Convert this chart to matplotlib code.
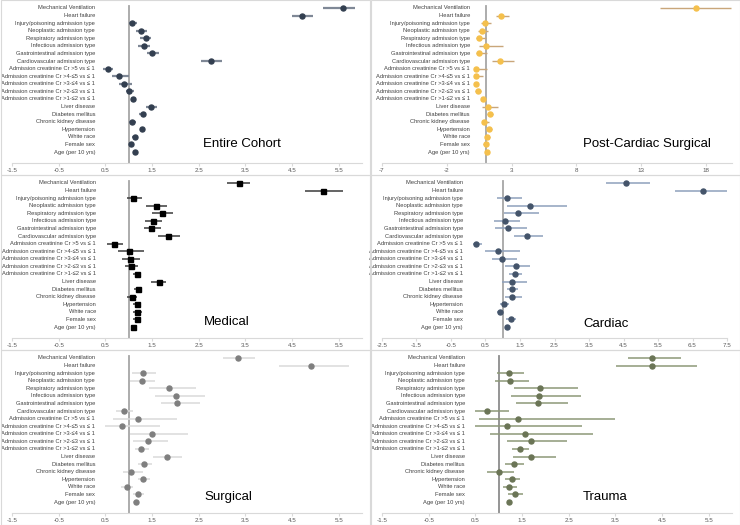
import numpy as np
import matplotlib
matplotlib.use("Agg")
import matplotlib.pyplot as plt
from matplotlib.patches import Rectangle

plt.rcParams['font.family'] = ['Liberation Sans', 'DejaVu Sans']
plt.rcParams['axes.unicode_minus'] = False

labels = ["Mechanical Ventilation", "Heart failure", "Injury/poisoning admission type",
          "Neoplastic admission type", "Respiratory admission type", "Infectious admission type",
          "Gastrointestinal admission type", "Cardiovascular admission type",
          "Admission creatinine Cr >5 vs \u2264 1", "Admission creatinine Cr >4-\u22645 vs \u2264 1",
          "Admission creatinine Cr >3-\u22644 vs \u2264 1", "Admission creatinine Cr >2-\u22643 vs \u2264 1",
          "Admission creatinine Cr >1-\u22642 vs \u2264 1", "Liver disease", "Diabetes mellitus",
          "Chronic kidney disease", "Hypertension", "White race", "Female sex", "Age (per 10 yrs)"]

# odds ratios with 95% CI
cohort_or = [5.60, 4.72, 1.08, 1.27, 1.37, 1.33, 1.50, 2.76, 0.56, 0.80, 0.91, 1.01, 1.10, 1.48, 1.30, 1.07, 1.28, 1.13, 1.05, 1.13]
cohort_lo = [5.17, 4.49, 1.01, 1.16, 1.25, 1.21, 1.39, 2.55, 0.46, 0.64, 0.80, 0.95, 1.06, 1.38, 1.23, 1.00, 1.24, 1.08, 1.01, 1.10]
cohort_hi = [5.86, 4.96, 1.18, 1.39, 1.48, 1.45, 1.65, 2.99, 0.67, 1.00, 1.07, 1.12, 1.16, 1.60, 1.36, 1.15, 1.33, 1.19, 1.10, 1.16]

pcs_or = [17.22, 2.20, 0.91, 0.71, 0.52, 1.04, 0.52, 2.12, 0.27, 0.24, 0.22, 0.40, 0.78, 1.17, 1.32, 0.89, 1.27, 1.12, 0.99, 1.12]
pcs_lo = [14.43, 1.79, 0.60, 0.40, 0.24, 0.45, 0.29, 1.48, 0.06, 0.06, 0.06, 0.21, 0.65, 0.71, 1.09, 0.71, 1.09, 0.91, 0.83, 0.99]
pcs_hi = [19.93, 2.77, 1.38, 1.14, 1.01, 2.30, 1.12, 3.16, 1.09, 0.76, 0.40, 0.60, 0.91, 1.92, 1.53, 1.27, 1.48, 1.35, 1.14, 1.22]

med_or = [3.36, 5.17, 1.10, 1.58, 1.72, 1.52, 1.48, 1.84, 0.69, 1.01, 1.03, 1.05, 1.17, 1.64, 1.20, 1.07, 1.18, 1.18, 1.17, 1.10]
med_lo = [3.11, 4.77, 0.96, 1.37, 1.50, 1.35, 1.32, 1.62, 0.53, 0.78, 0.85, 0.92, 1.10, 1.48, 1.12, 0.96, 1.10, 1.10, 1.10, 1.08]
med_hi = [3.61, 5.60, 1.28, 1.83, 1.95, 1.71, 1.69, 2.09, 0.87, 1.33, 1.25, 1.21, 1.27, 1.80, 1.29, 1.18, 1.25, 1.28, 1.25, 1.13]

card_or = [4.58, 6.79, 1.13, 1.79, 1.45, 1.06, 1.15, 1.69, 0.22, 0.85, 0.97, 1.38, 1.36, 1.27, 1.27, 1.28, 1.04, 0.92, 1.24, 1.11]
card_lo = [3.99, 5.98, 0.82, 1.13, 1.03, 0.74, 0.78, 1.34, 0.13, 0.50, 0.68, 1.06, 1.19, 0.97, 1.11, 1.06, 0.92, 0.82, 1.09, 1.07]
card_hi = [5.26, 7.50, 1.56, 2.87, 2.06, 1.50, 1.71, 2.18, 0.39, 1.50, 1.42, 1.79, 1.56, 1.69, 1.45, 1.56, 1.19, 1.01, 1.38, 1.15]

surg_or = [3.34, 4.90, 1.30, 1.28, 1.86, 2.01, 2.03, 0.90, 1.19, 0.85, 1.50, 1.42, 1.26, 1.82, 1.32, 1.05, 1.30, 0.96, 1.20, 1.15]
surg_lo = [3.03, 4.22, 1.07, 1.03, 1.43, 1.57, 1.69, 0.72, 0.67, 0.50, 1.03, 1.10, 1.14, 1.53, 1.19, 0.87, 1.19, 0.83, 1.09, 1.09]
surg_hi = [3.71, 5.72, 1.59, 1.57, 2.45, 2.63, 2.52, 1.09, 2.03, 1.68, 2.28, 1.85, 1.43, 2.14, 1.50, 1.30, 1.46, 1.09, 1.33, 1.20]

trauma_or = [4.29, 4.29, 1.23, 1.24, 1.89, 1.86, 1.84, 0.74, 1.41, 1.18, 1.57, 1.70, 1.45, 1.70, 1.32, 1.00, 1.29, 1.23, 1.35, 1.23]
trauma_lo = [3.77, 3.51, 0.96, 0.92, 1.33, 1.26, 1.38, 0.50, 0.57, 0.50, 0.82, 1.18, 1.28, 1.30, 1.14, 0.76, 1.13, 1.09, 1.21, 1.20]
trauma_hi = [4.91, 5.25, 1.55, 1.66, 2.71, 2.77, 2.48, 1.23, 3.50, 2.78, 3.02, 2.46, 1.64, 2.23, 1.55, 1.33, 1.46, 1.39, 1.53, 1.25]

titles = ["Entire Cohort", "Post-Cardiac Surgical", "Medical", "Cardiac", "Surgical", "Trauma"]
series = [(cohort_or, cohort_lo, cohort_hi), (pcs_or, pcs_lo, pcs_hi), (med_or, med_lo, med_hi),
          (card_or, card_lo, card_hi), (surg_or, surg_lo, surg_hi), (trauma_or, trauma_lo, trauma_hi)]

# axis range: (xmin, xmax, tick step)
axis_range = [(-1.5, 6.0, 1), (-7, 20, 5), (-1.5, 6.0, 1), (-2.5, 7.5, 1), (-1.5, 6.0, 1), (-1.5, 6.0, 1)]
# marker, point colour, bar colour, bar width
styles = [("o", "#333F50", "#7F8896", 1.6),
          ("o", "#F5C04C", "#C9A67A", 1.0),
          ("s", "#000000", "#3A3A3A", 1.1),
          ("o", "#44546A", "#8EA0BC", 1.1),
          ("o", "#7F7F7F", "#DADADA", 1.1),
          ("o", "#6B7556", "#8D9878", 1.1)]

W, H = 740, 525
fig = plt.figure(figsize=(W / 100, H / 100), dpi=100)

origins = [(0, 0), (370, 0), (0, 175), (370, 175), (0, 350), (370, 350)]
axis_right = [362, 362, 362, 357, 362, 362]
label_px = [95, 100, 96, 93, 95, 95]
title_px = [(203, 144), (213, 144), (204, 147), (213, 149), (204, 147), (213, 147)]
vline_col = ["#A6A6A6", "#A6A6A6", "#A6A6A6", "#A6A6A6", "#A6A6A6", "#8C8C8C"]

for i in range(6):
    ox, oy = origins[i]
    x0, x1 = 12, axis_right[i]
    y0, y1 = 2, 163
    ax = fig.add_axes([(ox + x0) / W, 1 - (oy + y1) / H, (x1 - x0) / W, (y1 - y0) / H])
    est, lo, hi = series[i]
    xmin, xmax, step = axis_range[i]
    marker, pcol, bcol, bw = styles[i]
    rows = np.arange(len(labels))

    ax.axvline(1, ymin=0, ymax=0.975, color=vline_col[i], lw=1.3, zorder=1)
    ax.hlines(rows, lo, hi, color=bcol, lw=bw, zorder=2)
    ax.plot(est, rows, ls="none", marker=marker, ms=3.6, color=pcol, mec=pcol, zorder=3)

    ax.set_xlim(xmin, xmax)
    ax.set_ylim(19 + 11 / 7.58, -6 / 7.58)
    ticks = np.arange(xmin, xmax + 1e-9, step)
    ax.set_xticks(ticks)
    ax.set_xticklabels(["%g" % t for t in ticks])
    ax.set_yticks([])
    for s in ["top", "left", "right"]:
        ax.spines[s].set_visible(False)
    ax.spines["bottom"].set_color("#D9D9D9")
    ax.spines["bottom"].set_linewidth(0.8)
    ax.tick_params(axis="x", labelsize=4.5, colors="#595959", color="#D9D9D9",
                   length=2, width=0.8, pad=1.5)
    ax.patch.set_alpha(0)

    lx = (label_px[i] - x0) / (x1 - x0)
    for r, lab in enumerate(labels):
        ax.text(lx, r, lab, transform=ax.get_yaxis_transform(), ha="right", va="center",
                fontsize=4.15, color="#404040")

    tx, ty = title_px[i]
    fig.text((ox + tx) / W, 1 - (oy + ty) / H, titles[i], ha="left", va="center",
             fontsize=9.5, color="#000000")

    fig.add_artist(Rectangle(((ox + 0.5) / W, 1 - (oy + 175) / H), 369 / W, 175 / H,
                             transform=fig.transFigure, fill=False, ec="#D9D9D9", lw=0.8))

fig.savefig("out.png", dpi=100, facecolor="white")
